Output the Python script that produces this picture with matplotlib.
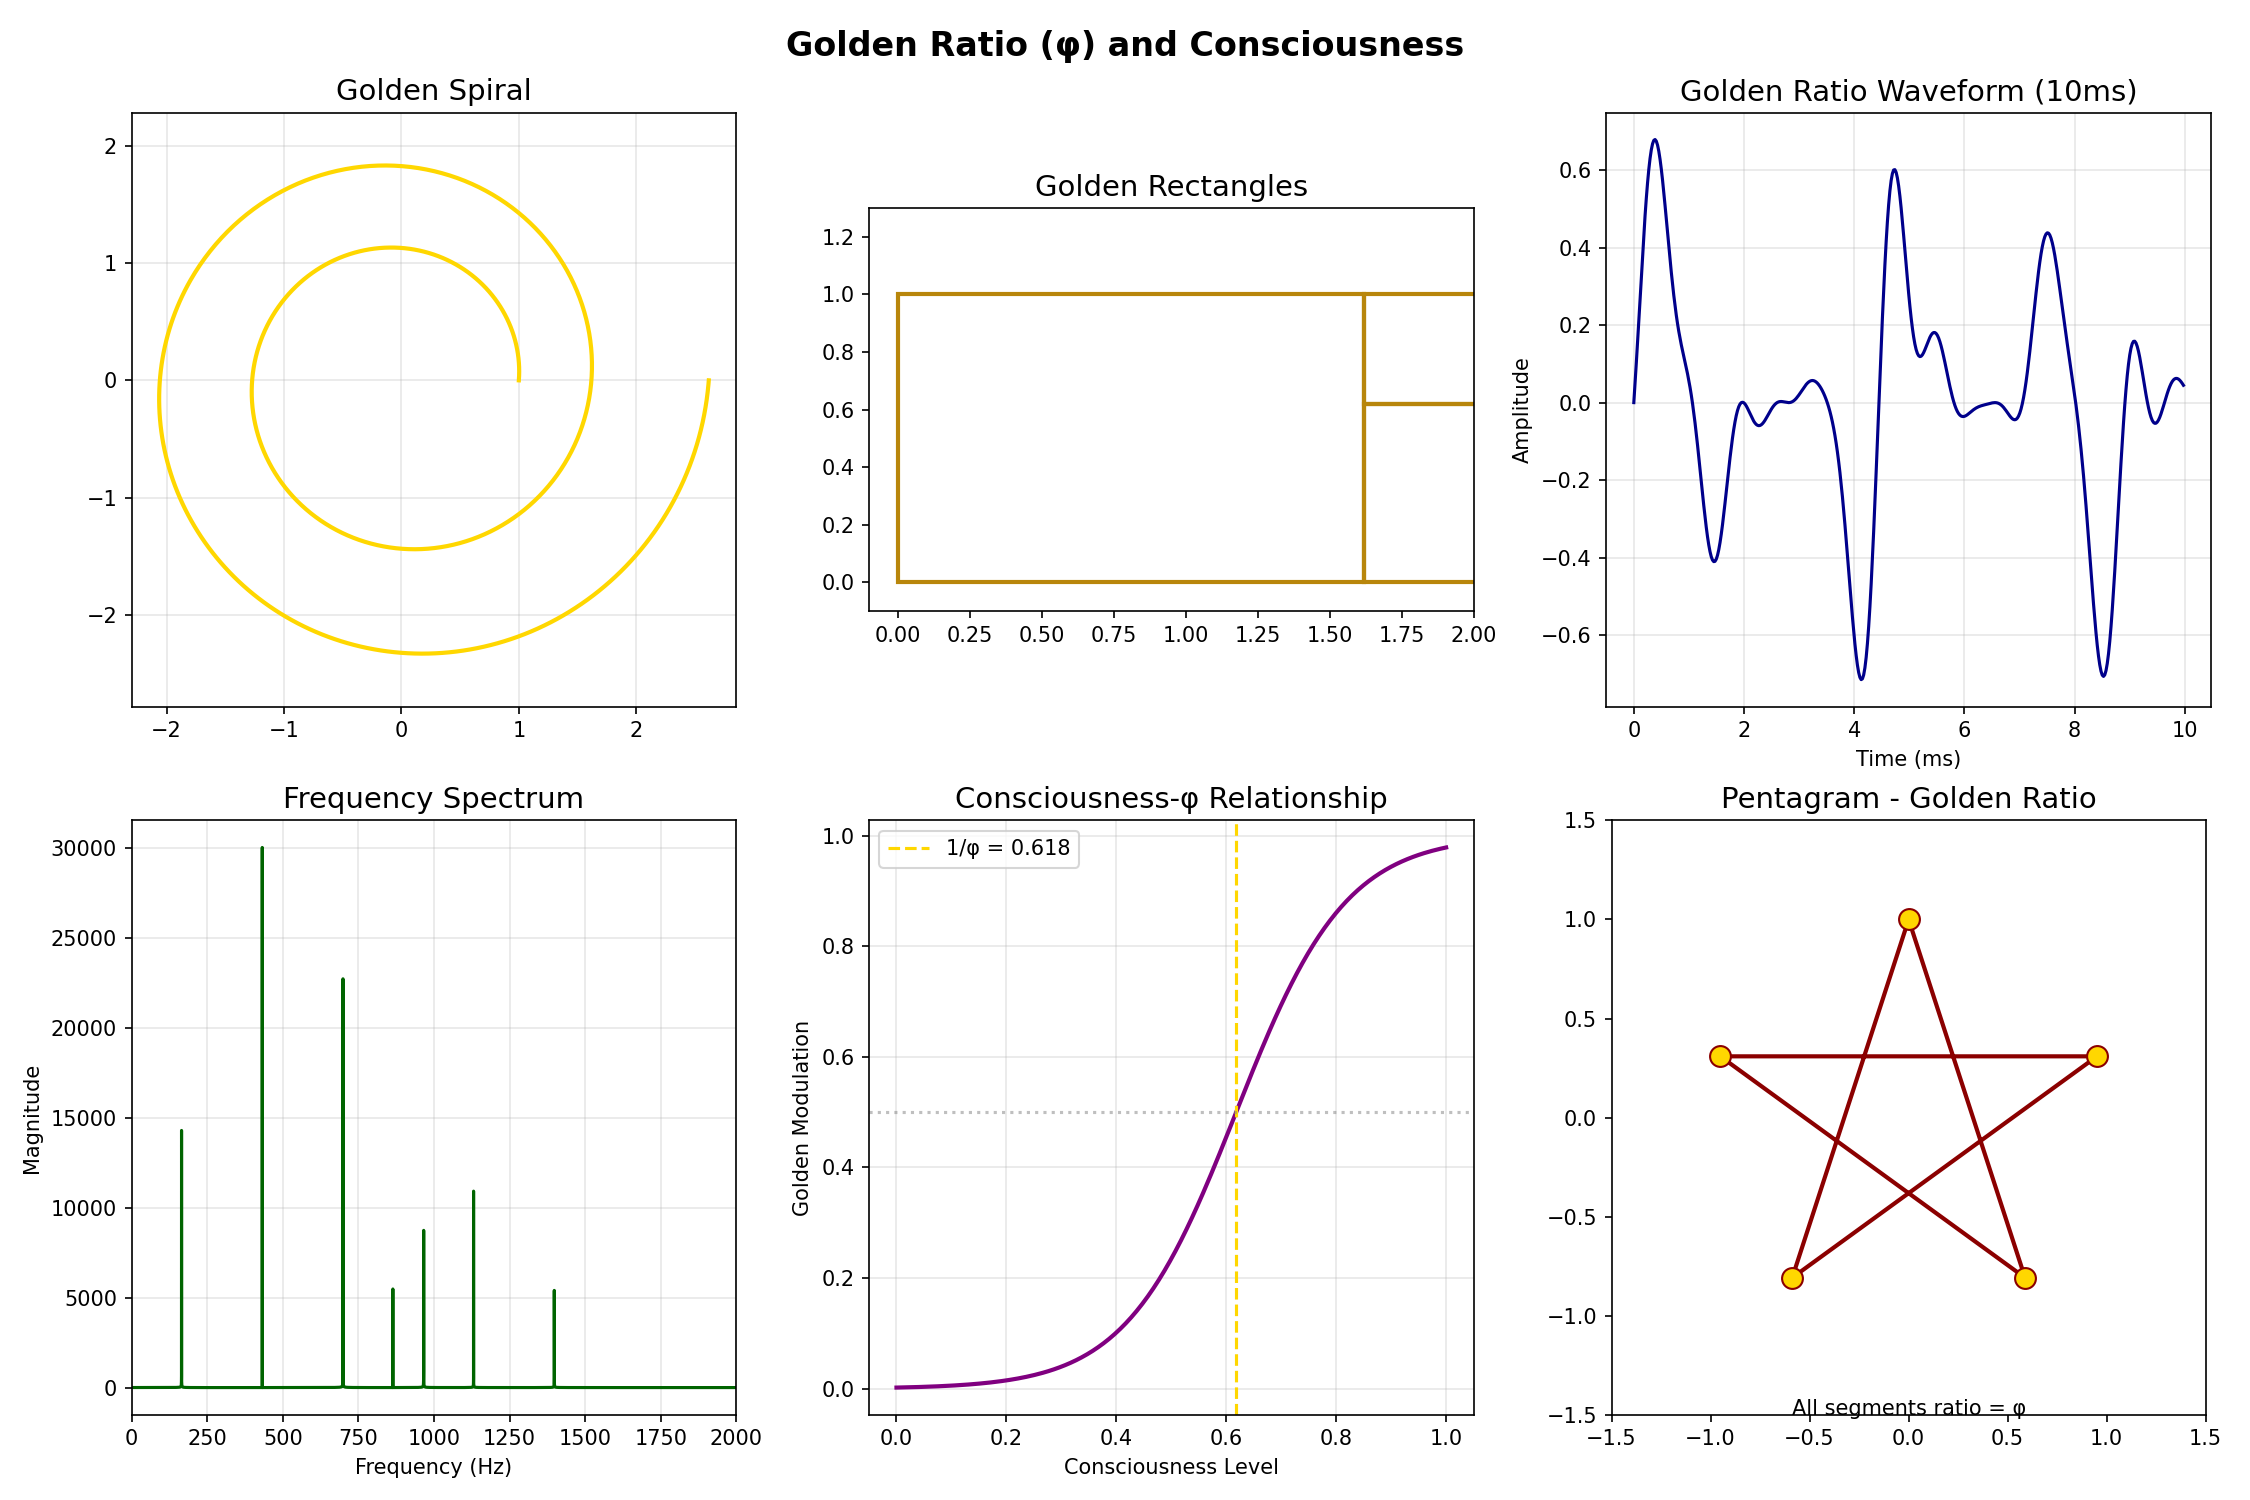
import numpy as np
import matplotlib
matplotlib.use('Agg')
import matplotlib.pyplot as plt
from matplotlib.patches import Rectangle

phi = (1 + np.sqrt(5)) / 2

# spiral: radius grows by phi each full turn, two turns
spiral_turns = 2

# golden rectangles (x, y, width, height)
rect_x = [0, phi, phi]
rect_y = [0, 0, 1 / phi]
rect_w = [phi, 1, 1 / phi]
rect_h = [1, 1 / phi, 1 / phi ** 2]

# tone: carriers at base * phi**n, weight phi**-n, amplitude modulated at base / phi
base_freq = 432
harmonic_powers = [0, 1, 2]
mod_depth = 1.0
amplitude_scale = 0.26
sample_rate = 44100
duration = 5

# sigmoid steepness for the consciousness curve
steepness = 10

# pentagram vertex order (star path)
star_order = [0, 2, 4, 1, 3, 0]

n_samples = sample_rate * duration
t = np.arange(n_samples) / sample_rate
carrier = np.zeros(n_samples)
for n in harmonic_powers:
    carrier += phi ** (-n) * np.sin(2 * np.pi * base_freq * phi ** n * t)
signal = carrier * (1 + mod_depth * np.sin(2 * np.pi * base_freq / phi * t))
signal = signal * amplitude_scale

spectrum = np.abs(np.fft.fft(signal))
freqs = np.fft.fftfreq(n_samples, 1 / sample_rate)
half = n_samples // 2

fig, axes = plt.subplots(2, 3, figsize=(15, 10), dpi=150)
fig.suptitle('Golden Ratio (φ) and Consciousness', fontsize=16, fontweight='bold')

# 1. Golden spiral
ax = axes[0, 0]
theta = np.linspace(0, 2 * np.pi * spiral_turns, 1000)
r = phi ** (theta / (2 * np.pi))
ax.plot(r * np.cos(theta), r * np.sin(theta), color='gold', linewidth=2)
ax.set_title('Golden Spiral', fontsize=14)
ax.axis('equal')
ax.grid(True, alpha=0.3)

# 2. Golden rectangles
ax = axes[0, 1]
for x, y, w, h in zip(rect_x, rect_y, rect_w, rect_h):
    ax.add_patch(Rectangle((x, y), w, h, fill=False, edgecolor='darkgoldenrod', linewidth=2))
ax.set_xlim(-0.1, 2)
ax.set_ylim(-0.1, 1.3)
ax.set_aspect('equal')
ax.set_title('Golden Rectangles', fontsize=14)

# 3. Waveform, first 10 ms
ax = axes[0, 2]
n_show = int(0.01 * sample_rate)
ax.plot(t[:n_show] * 1000, signal[:n_show], color='darkblue', linewidth=1.5)
ax.set_title('Golden Ratio Waveform (10ms)', fontsize=14)
ax.set_xlabel('Time (ms)')
ax.set_ylabel('Amplitude')
ax.grid(True, alpha=0.3)

# 4. Frequency spectrum
ax = axes[1, 0]
ax.plot(freqs[:half], spectrum[:half], color='darkgreen', linewidth=1.5)
ax.set_xlim(0, 2000)
ax.set_title('Frequency Spectrum', fontsize=14)
ax.set_xlabel('Frequency (Hz)')
ax.set_ylabel('Magnitude')
ax.grid(True, alpha=0.3)

# 5. Consciousness vs phi
ax = axes[1, 1]
c = np.linspace(0, 1, 200)
mod = 1 / (1 + np.exp(-steepness * (c - 1 / phi)))
ax.plot(c, mod, color='purple', linewidth=2)
ax.axvline(1 / phi, color='gold', linestyle='--', label=f'1/φ = {1 / phi:.3f}')
ax.axhline(0.5, color='gray', linestyle=':', alpha=0.5)
ax.set_title('Consciousness-φ Relationship', fontsize=14)
ax.set_xlabel('Consciousness Level')
ax.set_ylabel('Golden Modulation')
ax.legend(loc='upper left')
ax.grid(True, alpha=0.3)

# 6. Pentagram
ax = axes[1, 2]
ang = np.pi / 2 + np.arange(5) * 2 * np.pi / 5
px = np.cos(ang)
py = np.sin(ang)
ax.plot(px[star_order], py[star_order], color='darkred', linewidth=2)
ax.plot(px, py, 'o', color='gold', markersize=10, markeredgecolor='darkred')
ax.set_xlim(-1.5, 1.5)
ax.set_ylim(-1.5, 1.5)
ax.set_aspect('equal')
ax.set_title('Pentagram - Golden Ratio', fontsize=14)
ax.text(0, -1.5, 'All segments ratio = φ', ha='center', fontsize=10)

plt.tight_layout()
plt.savefig('out.png', dpi=150)
